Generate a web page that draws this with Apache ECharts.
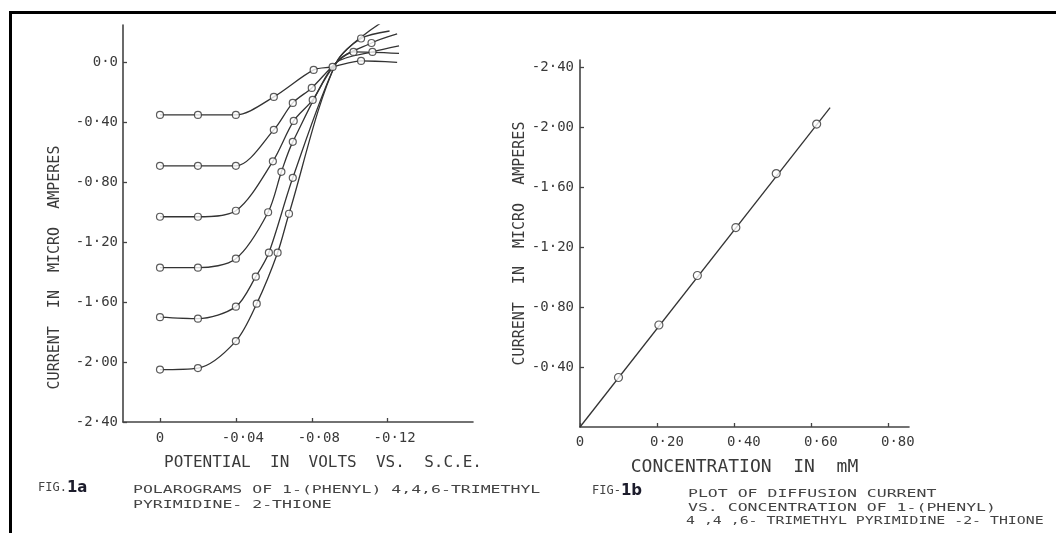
<!DOCTYPE html>
<html>
<head>
<meta charset="utf-8">
<script src="https://cdn.jsdelivr.net/npm/echarts@6/dist/echarts.min.js"></script>
<style>
  html, body { margin: 0; padding: 0; background: #fff; }
  #chart { width: 1056px; height: 533px; }
</style>
</head>
<body>
<div id="chart"></div>
<script>
// ---------- Fig 1a : polarograms (potential in V vs. S.C.E., current in µA) ----------
const potentialTicks = [0, -0.04, -0.08, -0.12];
const currentTicksA = [0, -0.4, -0.8, -1.2, -1.6, -2.0, -2.4];

// circled (measured) points of each polarogram
const wave1 = [[0, -0.35], [-0.02, -0.35], [-0.04, -0.35], [-0.06, -0.23], [-0.081, -0.05], [-0.091, -0.03], [-0.106, 0.01]];
const wave2 = [[0, -0.69], [-0.02, -0.69], [-0.04, -0.69], [-0.06, -0.45], [-0.07, -0.27], [-0.08, -0.17], [-0.102, 0.07]];
const wave3 = [[0, -1.03], [-0.02, -1.03], [-0.04, -0.99], [-0.0595, -0.66], [-0.0705, -0.39], [-0.0805, -0.25], [-0.112, 0.07]];
const wave4 = [[0, -1.37], [-0.02, -1.37], [-0.04, -1.31], [-0.057, -1.0], [-0.064, -0.73], [-0.07, -0.53], [-0.1115, 0.13]];
const wave5 = [[0, -1.70], [-0.02, -1.71], [-0.04, -1.63], [-0.0505, -1.43], [-0.0574, -1.27], [-0.07, -0.77], [-0.106, 0.16]];
const wave6 = [[0, -2.05], [-0.02, -2.04], [-0.04, -1.86], [-0.051, -1.61], [-0.062, -1.27], [-0.068, -1.01]];

// uncircled points of the drawn curves (common crossing point and curve ends)
const wave1Path = [[-0.125, 0.0]];
const wave2Path = [[-0.093, 0], [-0.126, 0.06]];
const wave3Path = [[-0.093, 0], [-0.126, 0.11]];
const wave4Path = [[-0.093, 0], [-0.125, 0.19]];
const wave5Path = [[-0.093, 0], [-0.121, 0.21]];
const wave6Path = [[-0.093, 0], [-0.116, 0.26]];

// ---------- Fig 1b : diffusion current vs concentration ----------
const concTicks = [0, 0.2, 0.4, 0.6, 0.8];
const currentTicksB = [-0.4, -0.8, -1.2, -1.6, -2.0, -2.4];
const concentration = [0.10, 0.205, 0.305, 0.405, 0.51, 0.615];
const diffusionCurrent = [-0.33, -0.68, -1.01, -1.33, -1.69, -2.02];
const fitLine = [[0, 0], [0.65, -2.13]];

// ---------- styling ----------
const INK = '#333';
const TXT = '#3a3a3a';
const MONO = 'DejaVu Sans Mono';

function dotNum(v, digits) {
  const s = Math.abs(v).toFixed(digits).replace('.', '\u00b7');
  return (v < 0 ? '-' : '') + s;
}

const waves = [wave1, wave2, wave3, wave4, wave5, wave6];
const paths = [wave1Path, wave2Path, wave3Path, wave4Path, wave5Path, wave6Path];

const series = [];
waves.forEach((w, i) => {
  const full = w.concat(paths[i]).sort((a, b) => b[0] - a[0]);
  series.push({
    type: 'line', xAxisIndex: 0, yAxisIndex: 0, data: full,
    showSymbol: false, smooth: 0.3,
    lineStyle: { color: INK, width: 1.3 }, silent: true, z: 2
  });
  series.push({
    type: 'scatter', xAxisIndex: 0, yAxisIndex: 0, data: w,
    symbol: 'circle', symbolSize: 7,
    itemStyle: { color: '#fff', borderColor: INK, borderWidth: 1.2 }, z: 3
  });
});
series.push({
  type: 'line', xAxisIndex: 1, yAxisIndex: 1, data: fitLine,
  showSymbol: false, lineStyle: { color: INK, width: 1.3 }, z: 2
});
series.push({
  type: 'scatter', xAxisIndex: 1, yAxisIndex: 1,
  data: concentration.map((c, i) => [c, diffusionCurrent[i]]),
  symbol: 'circle', symbolSize: 8,
  itemStyle: { color: '#fff', borderColor: INK, borderWidth: 1.2 }, z: 3
});

const axisLineStyle = { show: true, onZero: false, lineStyle: { color: '#444', width: 1.6 } };
const tickStyle = { show: true, inside: true, length: 4, lineStyle: { color: '#444', width: 1.3 } };
const labelBase = { color: TXT, fontFamily: MONO, fontSize: 14 };

const option = {
  animation: false,
  backgroundColor: '#fff',
  grid: [
    { left: 123, top: 25, width: 350, height: 397 },
    { left: 580, top: 60, width: 329, height: 367 }
  ],
  xAxis: [
    {
      gridIndex: 0, type: 'value', inverse: true, min: -0.165, max: 0.0195,
      axisLine: axisLineStyle,
      axisTick: Object.assign({ customValues: potentialTicks }, tickStyle),
      axisLabel: Object.assign({
        customValues: potentialTicks, margin: 9,
        formatter: v => v === 0 ? '{z|0}' : '{n|' + dotNum(v, 2) + '}',
        rich: { z: Object.assign({}, labelBase), n: Object.assign({ padding: [0, 0, 0, 14] }, labelBase) }
      }, labelBase),
      splitLine: { show: false },
      name: 'POTENTIAL  IN  VOLTS  VS.  S.C.E.', nameLocation: 'middle', nameGap: 33,
      nameTextStyle: { color: TXT, fontFamily: MONO, fontSize: 16, padding: [0, 0, 0, 50] }
    },
    {
      gridIndex: 1, type: 'value', min: 0, max: 0.855,
      axisLine: axisLineStyle,
      axisTick: Object.assign({ customValues: concTicks }, tickStyle),
      axisLabel: Object.assign({
        customValues: concTicks, margin: 8,
        formatter: v => v === 0 ? '{z|0}' : '{n|' + dotNum(v, 2) + '}',
        rich: { z: Object.assign({}, labelBase), n: Object.assign({ padding: [0, 0, 0, 20] }, labelBase) }
      }, labelBase),
      splitLine: { show: false },
      name: 'CONCENTRATION  IN  mM', nameLocation: 'middle', nameGap: 31,
      nameTextStyle: { color: TXT, fontFamily: MONO, fontSize: 18 }
    }
  ],
  yAxis: [
    {
      gridIndex: 0, type: 'value', min: -2.4, max: 0.25,
      axisLine: axisLineStyle,
      axisTick: Object.assign({ customValues: currentTicksA }, tickStyle),
      axisLabel: Object.assign({
        customValues: currentTicksA, margin: 5,
        formatter: v => v === 0 ? '0\u00b70' : dotNum(v, 2)
      }, labelBase),
      splitLine: { show: false },
      name: 'CURRENT  IN  MICRO  AMPERES', nameLocation: 'middle', nameGap: 60,
      nameTextStyle: { color: TXT, fontFamily: MONO, fontSize: 15, padding: [0, 88, 0, 0] }
    },
    {
      gridIndex: 1, type: 'value', inverse: true, min: -2.447, max: 0,
      axisLine: axisLineStyle,
      axisTick: Object.assign({ customValues: currentTicksB }, tickStyle),
      axisLabel: Object.assign({
        customValues: currentTicksB, margin: 6,
        formatter: v => dotNum(v, 2)
      }, labelBase),
      splitLine: { show: false },
      name: 'CURRENT  IN  MICRO  AMPERES', nameLocation: 'middle', nameGap: 46,
      nameTextStyle: { color: TXT, fontFamily: MONO, fontSize: 15 }
    }
  ],
  series: series,
  graphic: [
    { type: 'line', shape: { x1: 10.5, y1: 12.5, x2: 1056, y2: 12.5 }, style: { stroke: '#000', lineWidth: 3 }, silent: true },
    { type: 'line', shape: { x1: 10.5, y1: 11, x2: 10.5, y2: 533 }, style: { stroke: '#000', lineWidth: 3 }, silent: true },
    {
      type: 'text', x: 38, y: 488, silent: true,
      style: {
        text: '{s|FIG.}{b|1a}', verticalAlign: 'middle',
        rich: {
          s: { fontFamily: MONO, fontSize: 12, fill: '#444' },
          b: { fontFamily: 'DejaVu Sans', fontWeight: 'bold', fontSize: 15, fill: '#1c1c2c' }
        }
      }
    },
    { type: 'text', x: 133, y: 490, scaleX: 1.5, silent: true,
      style: { text: 'POLAROGRAMS OF 1-(PHENYL) 4,4,6-TRIMETHYL', fontFamily: MONO, fontSize: 11, fill: '#444', verticalAlign: 'middle' } },
    { type: 'text', x: 133, y: 505, scaleX: 1.5, silent: true,
      style: { text: 'PYRIMIDINE- 2-THIONE', fontFamily: MONO, fontSize: 11, fill: '#444', verticalAlign: 'middle' } },
    {
      type: 'text', x: 592, y: 491, silent: true,
      style: {
        text: '{s|FIG-}{b|1b}', verticalAlign: 'middle',
        rich: {
          s: { fontFamily: MONO, fontSize: 12, fill: '#444' },
          b: { fontFamily: 'DejaVu Sans', fontWeight: 'bold', fontSize: 15, fill: '#1c1c2c' }
        }
      }
    },
    { type: 'text', x: 688, y: 494, scaleX: 1.5, silent: true,
      style: { text: 'PLOT OF DIFFUSION CURRENT', fontFamily: MONO, fontSize: 11, fill: '#444', verticalAlign: 'middle' } },
    { type: 'text', x: 688, y: 508, scaleX: 1.5, silent: true,
      style: { text: 'VS. CONCENTRATION OF 1-(PHENYL)', fontFamily: MONO, fontSize: 11, fill: '#444', verticalAlign: 'middle' } },
    { type: 'text', x: 686, y: 521, scaleX: 1.35, silent: true,
      style: { text: '4 ,4 ,6- TRIMETHYL PYRIMIDINE -2- THIONE', fontFamily: MONO, fontSize: 11, fill: '#444', verticalAlign: 'middle' } }
  ]
};

const chart = echarts.init(document.getElementById('chart'), null, { renderer: 'canvas' });
chart.setOption(option);
</script>
</body>
</html>
